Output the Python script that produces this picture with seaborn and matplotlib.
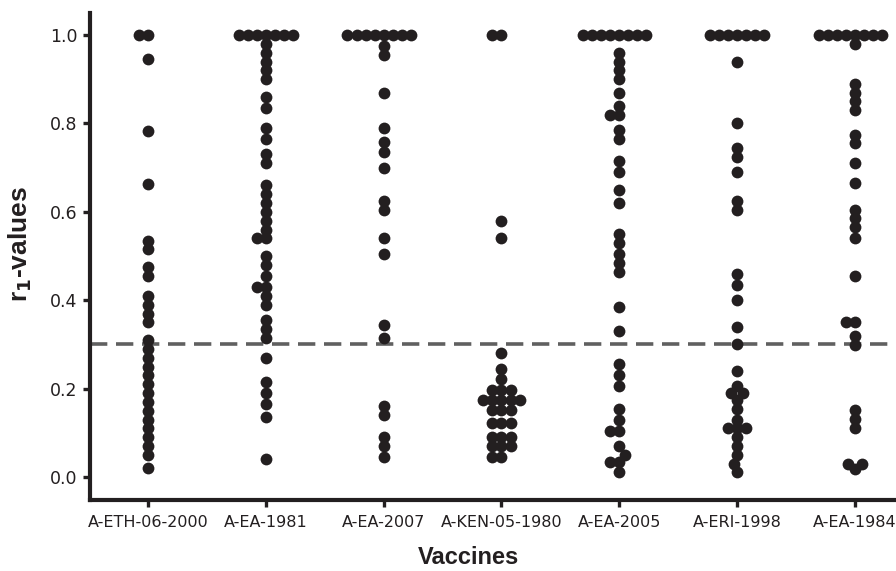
import pandas as pd
import matplotlib
matplotlib.use('Agg')
import matplotlib.pyplot as plt
import seaborn as sns

# categories on the x axis
vaccines = ['A-ETH-06-2000', 'A-EA-1981', 'A-EA-2007', 'A-KEN-05-1980',
            'A-EA-2005', 'A-ERI-1998', 'A-EA-1984']

# r1-values, one list per vaccine
r1_eth_06_2000 = [1.0, 1.0, 0.947, 0.783, 0.662, 0.535, 0.515, 0.475, 0.455,
                  0.41, 0.39, 0.37, 0.35, 0.31, 0.29, 0.27, 0.25, 0.23,
                  0.21, 0.19, 0.17, 0.15, 0.13, 0.11, 0.09, 0.07, 0.05, 0.02]
r1_ea_1981 = [1.0, 1.0, 1.0, 1.0, 1.0, 1.0, 1.0, 0.98, 0.96, 0.94, 0.92,
              0.90, 0.86, 0.835, 0.79, 0.765, 0.73, 0.71, 0.66, 0.64, 0.62,
              0.60, 0.58, 0.56, 0.54, 0.54, 0.50, 0.48, 0.455, 0.43, 0.43,
              0.41, 0.39, 0.355, 0.335, 0.315, 0.27, 0.215, 0.19, 0.165,
              0.135, 0.04]
r1_ea_2007 = [1.0, 1.0, 1.0, 1.0, 1.0, 1.0, 1.0, 1.0, 0.975, 0.955, 0.87,
              0.79, 0.757, 0.735, 0.70, 0.625, 0.605, 0.54, 0.505, 0.345,
              0.315, 0.16, 0.14, 0.09, 0.07, 0.045]
r1_ken_05_1980 = [1.0, 1.0, 0.58, 0.54, 0.28, 0.245, 0.222, 0.198, 0.198,
                  0.198, 0.175, 0.175, 0.175, 0.175, 0.175, 0.152, 0.152,
                  0.152, 0.122, 0.122, 0.122, 0.091, 0.091, 0.091, 0.07,
                  0.07, 0.07, 0.045, 0.045]
r1_ea_2005 = [1.0, 1.0, 1.0, 1.0, 1.0, 1.0, 1.0, 1.0, 0.96, 0.94, 0.92,
              0.90, 0.87, 0.84, 0.82, 0.82, 0.785, 0.765, 0.715, 0.69, 0.65,
              0.62, 0.55, 0.53, 0.505, 0.485, 0.465, 0.385, 0.33, 0.255,
              0.23, 0.205, 0.155, 0.13, 0.105, 0.105, 0.07, 0.05, 0.035,
              0.035, 0.012]
r1_eri_1998 = [1.0, 1.0, 1.0, 1.0, 1.0, 1.0, 1.0, 0.94, 0.80, 0.745, 0.725,
               0.69, 0.625, 0.605, 0.46, 0.435, 0.40, 0.34, 0.30, 0.24,
               0.205, 0.19, 0.19, 0.175, 0.155, 0.13, 0.11, 0.11, 0.11,
               0.09, 0.07, 0.05, 0.03, 0.012]
r1_ea_1984 = [1.0, 1.0, 1.0, 1.0, 1.0, 1.0, 1.0, 1.0, 0.98, 0.89, 0.87,
              0.85, 0.83, 0.775, 0.755, 0.71, 0.665, 0.605, 0.585, 0.565,
              0.54, 0.455, 0.35, 0.35, 0.318, 0.298, 0.152, 0.132, 0.112,
              0.03, 0.03, 0.018]

threshold = 0.3

all_values = [r1_eth_06_2000, r1_ea_1981, r1_ea_2007, r1_ken_05_1980,
              r1_ea_2005, r1_eri_1998, r1_ea_1984]
df = pd.concat([pd.DataFrame({'Vaccine': name, 'r1': vals})
                for name, vals in zip(vaccines, all_values)], ignore_index=True)

sns.set_style('ticks')
plt.rcParams['font.family'] = ['DejaVu Sans']
ink = '#231f20'

fig = plt.figure(figsize=(8.96, 5.71), dpi=100)
ax = fig.add_axes([90 / 896, 1 - 500 / 571, 806 / 896, 487 / 571])

# swarm is laid out with a smaller dot than the one shown, so the
# dots overlap a bit like in the original figure
sns.swarmplot(data=df, x='Vaccine', y='r1', order=vaccines, color=ink,
              size=6.2, linewidth=0, ax=ax, zorder=3)
ax.axhline(threshold, color='#606060', lw=2.6, dashes=(4.8, 2.4), zorder=2)

ax.set_xlim(-0.492, 6.348)
ax.set_ylim(-0.052, 1.05)
ax.set_yticks([0.0, 0.2, 0.4, 0.6, 0.8, 1.0])
ax.set_yticklabels(['0.0', '0.2', '0.4', '0.6', '0.8', '1.0'])

for side in ['top', 'right']:
    ax.spines[side].set_visible(False)
for side in ['left', 'bottom']:
    ax.spines[side].set_linewidth(3)
    ax.spines[side].set_color(ink)

ax.tick_params(axis='both', length=5, width=2.4, color=ink, labelcolor=ink)
ax.tick_params(axis='y', labelsize=12.5, pad=4)
ax.tick_params(axis='x', labelsize=11.5, pad=6)

ax.set_ylabel('r$_\\mathbf{1}$-values', fontsize=19, fontweight='bold',
              family='Liberation Sans', color=ink)
ax.yaxis.set_label_coords(-0.07, 0.525)
ax.set_xlabel('Vaccines', fontsize=17, fontweight='bold',
              family='Liberation Sans', color=ink)
ax.xaxis.set_label_coords(0.47, -0.094)

# fix the swarm positions, then draw the dots at full size
fig.canvas.draw()
for dots in ax.collections:
    if 'draw' in vars(dots):
        del dots.draw
    dots.set_sizes([8.5 ** 2])

fig.savefig('out.png', dpi=100)
